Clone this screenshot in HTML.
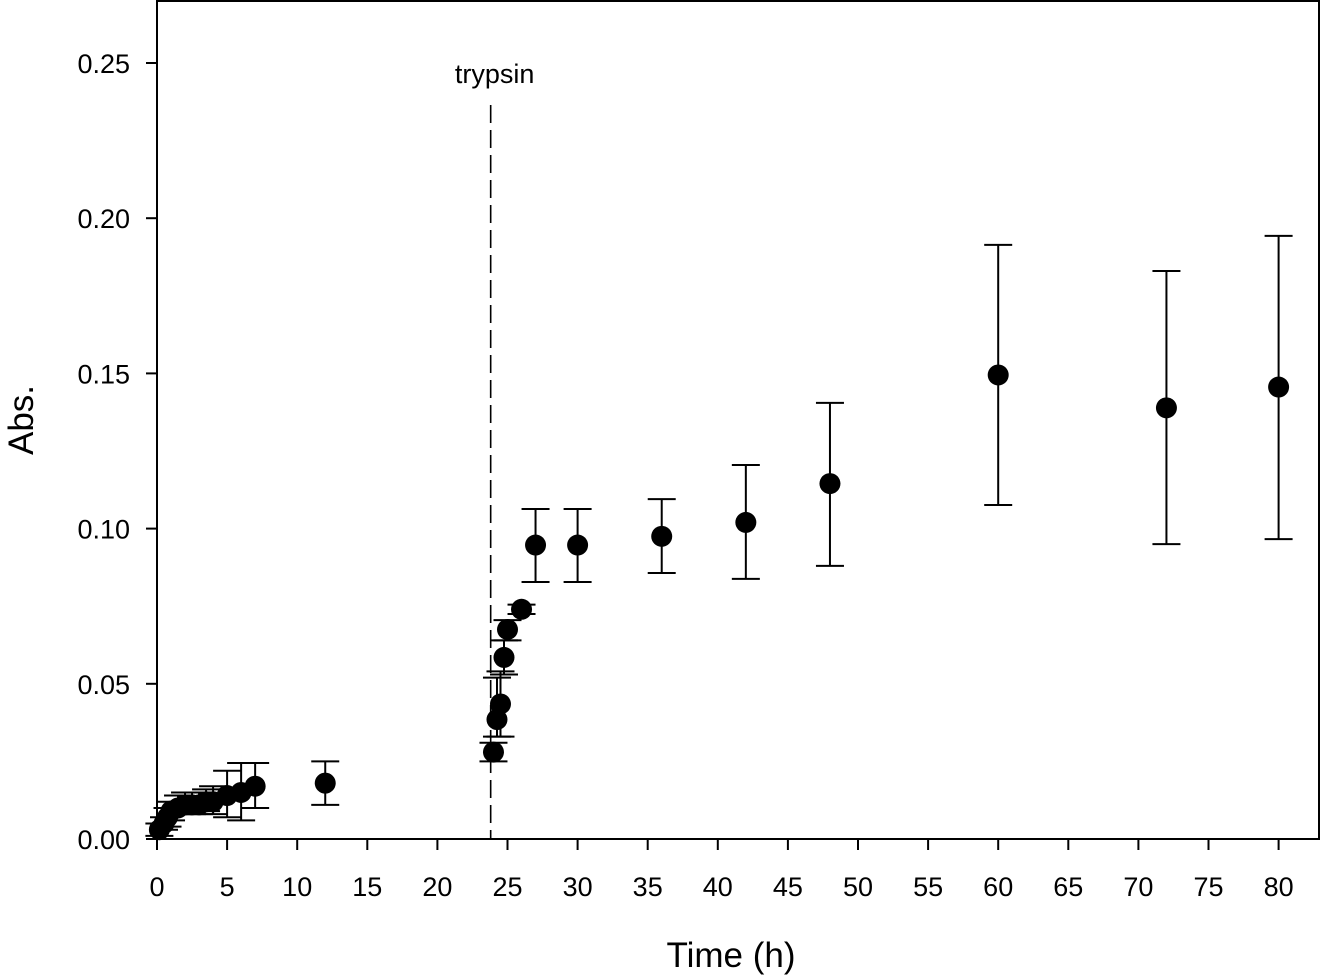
<!DOCTYPE html>
<html><head><meta charset="utf-8"><style>
body{margin:0;background:#fff;}
svg{display:block;font-family:"Liberation Sans",Arial,sans-serif;}
</style></head><body>
<svg id="chart" width="1323" height="977" viewBox="0 0 1323 977">
<rect x="157" y="1" width="1162" height="838" fill="none" stroke="#000" stroke-width="2"/>
<g id="xaxis"></g>
<g id="yaxis"></g>
<g id="marks"></g>
<text x="731" y="967" font-size="35" text-anchor="middle">Time (h)</text>
<text transform="translate(33,420) rotate(-90)" font-size="35" text-anchor="middle">Abs.</text>
</svg>
<script>
const times=[0.17,0.5,0.75,1,1.5,2,2.5,3,3.5,4,5,6,7,12,24,24.25,24.5,24.75,25,26,27,30,36,42,48,60,72,80];
const values=[0.003,0.005,0.007,0.009,0.010,0.011,0.011,0.011,0.012,0.012,0.014,0.015,0.017,0.018,0.028,0.0385,0.0435,0.0585,0.0675,0.074,0.0947,0.0947,0.0975,0.102,0.1145,0.1495,0.1389,0.1456];
const upper=[0.005,0.007,0.010,0.012,0.014,0.015,0.015,0.015,0.016,0.017,0.022,0.0245,0.0245,0.025,0.031,0.052,0.054,0.064,0.0705,0.0755,0.1063,0.1063,0.1095,0.1205,0.1405,0.1914,0.183,0.1943];
const lower=[0.001,0.003,0.004,0.006,0.008,0.008,0.008,0.008,0.009,0.008,0.007,0.006,0.010,0.011,0.025,0.033,0.033,0.053,0.064,0.0725,0.0828,0.0828,0.0857,0.0838,0.088,0.1076,0.095,0.0966];
const xTicks=[0,5,10,15,20,25,30,35,40,45,50,55,60,65,70,75,80];
const yTicks=[0,0.05,0.10,0.15,0.20,0.25];
const yTickLabels=["0.00","0.05","0.10","0.15","0.20","0.25"];
const trypsinTime=23.8;
const NS="http://www.w3.org/2000/svg";
const xs=t=>157+t*14.02;
const ys=v=>839-v*3104;
function mk(tag,attrs,parent){const e=document.createElementNS(NS,tag);for(const k in attrs)e.setAttribute(k,attrs[k]);parent.appendChild(e);return e;}
const xg=document.getElementById('xaxis'),yg=document.getElementById('yaxis'),mg=document.getElementById('marks'),svg=document.getElementById('chart');
xTicks.forEach(t=>{
 const l=mk('line',{x1:xs(t),x2:xs(t),y1:839,y2:850,stroke:'#000','stroke-width':2},xg);
 
 
 const tx=mk('text',{x:xs(t),y:896,'font-size':27,'text-anchor':'middle'},xg);
 tx.textContent=t;
 
 
});
yTicks.forEach((v,i)=>{
 const l=mk('line',{x1:146,x2:157,y1:ys(v),y2:ys(v),stroke:'#000','stroke-width':2},yg);
 
 
 const tx=mk('text',{x:130,y:ys(v)+10,'font-size':27,'text-anchor':'end'},yg);
 tx.textContent=yTickLabels[i];
 
 
});
const dl=mk('line',{x1:xs(trypsinTime),x2:xs(trypsinTime),y1:105,y2:839,stroke:'#000','stroke-width':1.6,'stroke-dasharray':'18,7'},svg);


const tl=mk('text',{x:xs(trypsinTime)+4,y:83,'font-size':27,'text-anchor':'middle'},svg);
tl.textContent='trypsin';


times.forEach((t,i)=>{
 const x=xs(t);
 const g=mk('g',{},mg);
 
 
 mk('line',{x1:x,x2:x,y1:ys(upper[i]),y2:ys(lower[i]),stroke:'#000','stroke-width':2},g);
 mk('line',{x1:x-14,x2:x+14,y1:ys(upper[i]),y2:ys(upper[i]),stroke:'#000','stroke-width':2},g);
 mk('line',{x1:x-14,x2:x+14,y1:ys(lower[i]),y2:ys(lower[i]),stroke:'#000','stroke-width':2},g);
 mk('circle',{cx:x,cy:ys(values[i]),r:10.5,fill:'#000'},g);
});
</script>
</body></html>
